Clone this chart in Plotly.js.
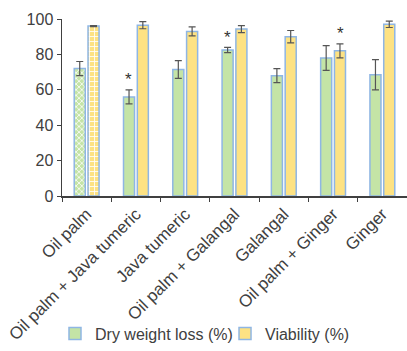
<!DOCTYPE html>
<html><head><meta charset="utf-8">
<script src="https://cdn.plot.ly/plotly-3.0.1.min.js"></script>
<style>html,body{margin:0;padding:0;background:#fff}#c{width:407px;height:351px}</style>
</head><body><div id="c"></div>
<script>
const categories = ["Oil palm","Oil palm + Java tumeric","Java tumeric","Oil palm + Galangal","Galangal","Oil palm + Ginger","Ginger"];
const dryWeightLoss = [72, 56, 71.5, 82.5, 68, 78, 68.5];
const dryWeightErr = [4, 4, 5, 1.5, 4, 7, 8.5];
const viability = [96, 96.5, 93, 94.3, 90, 82, 97];
const viabilityErr = [0.3, 2, 2.5, 2, 3.5, 4, 1.8];
const dryPattern = ["x","","","","","",""];
const viaPattern = ["+","","","","","",""];
const dryStar = [false, true, false, true, false, false, false];
const viaStar = [false, false, false, false, false, true, false];

// order points so that an unpatterned bar comes first (legend swatch uses first point)
const order = categories.map((_,i)=>i).sort((a,b)=>(dryPattern[a]?1:0)-(dryPattern[b]?1:0));
const pick = arr => order.map(i=>arr[i]);

const outline = {color:"#8fb6e4", width:1.5};
const errStyle = {color:"#555555", thickness:1.2, width:3.5};
const traces = [
  {type:"bar", name:"Dry weight loss (%)", legend:"legend", x:pick(categories), y:pick(dryWeightLoss),
   error_y:Object.assign({type:"data", array:pick(dryWeightErr), visible:true}, errStyle),
   marker:{color:"#c4e4a6", line:outline, pattern:{shape:pick(dryPattern), fgcolor:"#ffffff", bgcolor:"#c4e4a6", size:4, solidity:0.35}}},
  {type:"bar", name:"Viability (%)", legend:"legend2", x:pick(categories), y:pick(viability),
   error_y:Object.assign({type:"data", array:pick(viabilityErr), visible:true}, errStyle),
   marker:{color:"#fde283", line:outline, pattern:{shape:pick(viaPattern), fgcolor:"#ffffff", bgcolor:"#fde283", size:5, solidity:0.3}}}
];
const annotations = [];
categories.forEach((c,i)=>{
  if (dryStar[i]) annotations.push({x:c, y:dryWeightLoss[i]+dryWeightErr[i], xref:"x", yref:"y", text:"*", showarrow:false, xshift:-7.5, yshift:10, font:{size:17, color:"#333"}});
  if (viaStar[i]) annotations.push({x:c, y:viability[i]+viabilityErr[i], xref:"x", yref:"y", text:"*", showarrow:false, xshift:7.5, yshift:10, font:{size:17, color:"#333"}});
});
const legendBase = {orientation:"h", xanchor:"left", y:-0.777, yanchor:"middle", font:{size:16, color:"#404040"}, itemwidth:30, borderwidth:0, bgcolor:"rgba(0,0,0,0)"};
const layout = {
  width:407, height:351, margin:{l:62, r:0, t:19, b:153},
  paper_bgcolor:"#fff", plot_bgcolor:"#fff",
  font:{family:"Liberation Sans, Arial, sans-serif", size:16, color:"#404040"},
  barmode:"group", bargap:0.44, bargroupgap:0.2,
  showlegend:true,
  legend:Object.assign({x:-0.0203}, legendBase),
  legend2:Object.assign({x:0.4725}, legendBase),
  xaxis:{type:"category", categoryorder:"array", categoryarray:categories, automargin:false, tickangle:-45, showline:true, linecolor:"#404040", linewidth:1.5, ticks:"outside", tickson:"boundaries", ticklen:4, tickcolor:"#404040", showgrid:false, tickfont:{size:17, color:"#404040"}},
  yaxis:{range:[0,100], dtick:20, automargin:false, showline:true, linecolor:"#404040", linewidth:1.5, ticks:"outside", ticklen:4, tickcolor:"#404040", showgrid:false, zeroline:false, tickfont:{size:16, color:"#404040"}},
  annotations:annotations
};
Plotly.newPlot("c", traces, layout, {displayModeBar:false, staticPlot:true});
</script></body></html>
